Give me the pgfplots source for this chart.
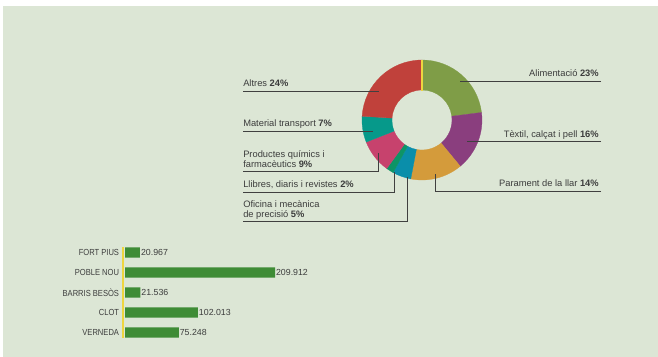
\documentclass[border=0pt]{standalone}
\usepackage{pgfplots}
\pgfplotsset{compat=1.18}
\usepackage{fontspec}
\setmainfont{Liberation Sans}
\newfontfamily\condfont[FakeStretch=0.86]{Liberation Sans}

\definecolor{bgpanel}{HTML}{DCE6D5}
\definecolor{calim}{HTML}{7F9D47}
\definecolor{ctext}{HTML}{8A3E7E}
\definecolor{cpar}{HTML}{D49B3B}
\definecolor{cofi}{HTML}{0A8EAA}
\definecolor{cllib}{HTML}{0E9466}
\definecolor{cprod}{HTML}{C7426D}
\definecolor{cmat}{HTML}{06998A}
\definecolor{calt}{HTML}{C0413B}
\definecolor{cbar}{HTML}{3F8C36}
\definecolor{cyel}{HTML}{EED640}
\definecolor{ctxt}{HTML}{3C3C3C}
\definecolor{cline}{HTML}{404040}

\newcommand\lbl{\fontsize{7}{8}\selectfont}

\begin{document}
\begin{tikzpicture}[x=0.75pt,y=-0.75pt]
\path[use as bounding box] (0,0) rectangle (658,357);
\fill[white] (0,0) rectangle (658,357);
\fill[bgpanel] (2.5,6) rectangle (658,357);

% donut: shares in percent, clockwise from the top
\begin{axis}[at={(316.5pt,-90pt)}, anchor=origin, x=0.75pt, y=0.75pt,
  xmin=-62, xmax=62, ymin=-62, ymax=62, hide axis, clip=false]
\gdef\angstart{90}
\foreach \v/\c in {23/calim,16/ctext,14/cpar,5/cofi,2/cllib,9/cprod,7/cmat,24/calt}{
  \pgfmathsetmacro{\angend}{\angstart-3.6*\v}
  \edef\temp{\noexpand\fill[\c, draw=\c, line width=0.2pt]
    (axis cs:{60*cos(\angstart)},{60*sin(\angstart)})
    arc[start angle=\angstart, end angle=\angend, radius=45pt]
    -- (axis cs:{30*cos(\angend)},{30*sin(\angend)})
    arc[start angle=\angend, end angle=\angstart, radius=22.5pt] -- cycle;}
  \temp
  \global\let\angstart\angend
}
\draw[cyel, line width=1.5pt] (axis cs:0,29.5) -- (axis cs:0,60.5);
\end{axis}

% leader lines
\begin{scope}[cline, line width=0.6pt]
\draw (243,91) -- (379,91);
\draw (243,131) -- (373,131);
\draw (243,171) -- (378,171) -- (378,153);
\draw (243,192) -- (394,192) -- (394,172);
\draw (243,221) -- (407,221) -- (407,177);
\draw (601,81) -- (460,81);
\draw (601,141) -- (467,141);
\draw (601,191) -- (435,191) -- (435,174);
\end{scope}

\begin{scope}[every node/.style={inner sep=0pt, font=\lbl, text=ctxt}]
\node[anchor=base west] at (243,86.5) {Altres \textbf{24\%}};
\node[anchor=base west] at (243,126.5) {Material transport \textbf{7\%}};
\node[anchor=base west] at (243,157.5) {Productes químics i};
\node[anchor=base west] at (243,167) {farmacèutics \textbf{9\%}};
\node[anchor=base west] at (243,187) {Llibres, diaris i revistes \textbf{2\%}};
\node[anchor=base west] at (243,207.5) {Oficina i mecànica};
\node[anchor=base west] at (243,217.5) {de precisió \textbf{5\%}};
\node[anchor=base east] at (599,76.5) {Alimentació \textbf{23\%}};
\node[anchor=base east] at (599,137) {Tèxtil, calçat i pell \textbf{16\%}};
\node[anchor=base east] at (599,186.5) {Parament de la llar \textbf{14\%}};
\end{scope}

% bars
\begin{axis}[at={(93.75pt,-249.375pt)}, anchor=origin, x=0.536pt, y=15pt,
  xbar, bar width=7.8pt, bar shift=0pt,
  xmin=-2.4, xmax=220, ymin=-0.28, ymax=4.28,
  hide x axis, axis y line*=left,
  y axis line style={-, draw=cyel, line width=1.2pt},
  ytick={0,1,2,3,4},
  yticklabels={VERNEDA,CLOT,BARRIS BESÒS,POBLE NOU,FORT PIUS},
  major tick length=0pt,
  yticklabel style={inner sep=0pt, xshift=-3pt, text=ctxt,
    font=\condfont\fontsize{6.6}{7}\selectfont},
  nodes near coords={\pgfmathprintnumber[fixed,zerofill,precision=3,assume math mode=true]{\pgfplotspointmeta}},
  nodes near coords style={anchor=west, inner xsep=0.6pt, text=ctxt,
    font=\fontsize{6.6}{7}\selectfont},
  clip=false]
\addplot[fill=cbar, draw=none] coordinates {
  (75.248,0) (102.013,1) (21.536,2) (209.912,3) (20.967,4)};
\end{axis}
\end{tikzpicture}
\end{document}
